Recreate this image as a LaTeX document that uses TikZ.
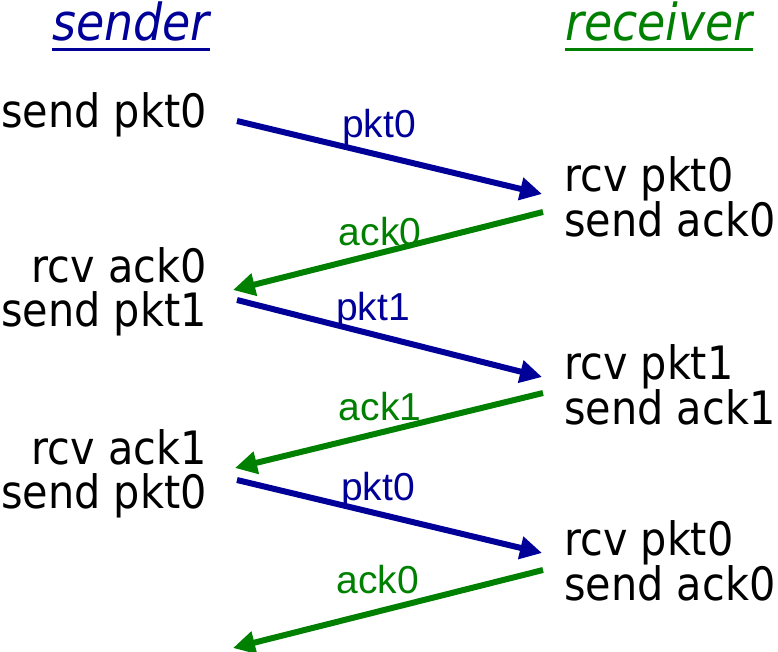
\documentclass[tikz,border=0pt]{standalone}
\usepackage{fontspec}
\setmainfont{DejaVu Sans}[FakeStretch=0.9]
\newfontfamily\lblfont{Liberation Sans}
\usetikzlibrary{arrows.meta}
\usetikzlibrary{calc}

\definecolor{pktblue}{RGB}{0,0,153}
\definecolor{ackgreen}{RGB}{0,128,0}

\tikzset{
	evt/.style={inner sep=0pt, font=\fontsize{46}{44}\selectfont},
	lefttxt/.style={evt, anchor=east, align=right},
	righttxt/.style={evt, anchor=west, align=left},
	title/.style={inner sep=0pt, anchor=base, font=\fontsize{51}{51}\selectfont\itshape},
	msg/.style={line width=6pt, -{Triangle[length=22pt,width=22pt]}},
	pkt/.style={msg, draw=pktblue},
	ack/.style={msg, draw=ackgreen},
	lbl/.style={inner sep=0pt, font=\lblfont\fontsize{39}{39}\selectfont}
}

\begin{document}
\begin{tikzpicture}[x=1pt,y=-1pt]
	\useasboundingbox (0,0) rectangle (778,651);

	% titles
	\node[title,text=pktblue] (snd) at (131,40) {sender};
	\node[title,text=ackgreen] (rcv) at (659,40) {receiver};
	\draw[pktblue,line width=3pt] ($(snd.base west)+(0,9)$) -- ($(snd.base east)+(0,9)$);
	\draw[ackgreen,line width=3pt] ($(rcv.base west)+(0,9)$) -- ($(rcv.base east)+(0,9)$);

	% sender side
	\node[lefttxt] (s1) at (207,115) {send pkt0};
	\node[lefttxt] (s2) at (207,292) {rcv ack0\\send pkt1};
	\node[lefttxt] (s3) at (207,474) {rcv ack1\\send pkt0};
	\coordinate (e1) at (233,648);

	% receiver side
	\node[righttxt] (r1) at (564,197) {rcv pkt0\\send ack0};
	\node[righttxt] (r2) at (564,385) {rcv pkt1\\send ack1};
	\node[righttxt] (r3) at (564,561) {rcv pkt0\\send ack0};

	% messages
	\draw[pkt] ($(s1.east)+(30,6)$) -- ($(r1.west)+(-22,-3)$);
	\draw[ack] ($(r1.west)+(-21,15)$) -- ($(s2.east)+(26,-2)$);
	\draw[pkt] ($(s2.east)+(30,8)$) -- ($(r2.west)+(-22,-8)$);
	\draw[ack] ($(r2.west)+(-21,8)$) -- ($(s3.east)+(28,-6)$);
	\draw[pkt] ($(s3.east)+(30,6)$) -- ($(r3.west)+(-22,-8)$);
	\draw[ack] ($(r3.west)+(-21,9)$) -- (e1);

	% labels
	\node[lbl,text=pktblue] (l1) at (379,127) {pkt0};
	\node[lbl,text=ackgreen] (l2) at (380,232) {ack0};
	\node[lbl,text=pktblue] (l3) at (373,310) {pkt1};
	\node[lbl,text=ackgreen] (l4) at (380,407) {ack1};
	\node[lbl,text=pktblue] (l5) at (378,490) {pkt0};
	\node[lbl,text=ackgreen] (l6) at (378,580) {ack0};
\end{tikzpicture}
\end{document}
